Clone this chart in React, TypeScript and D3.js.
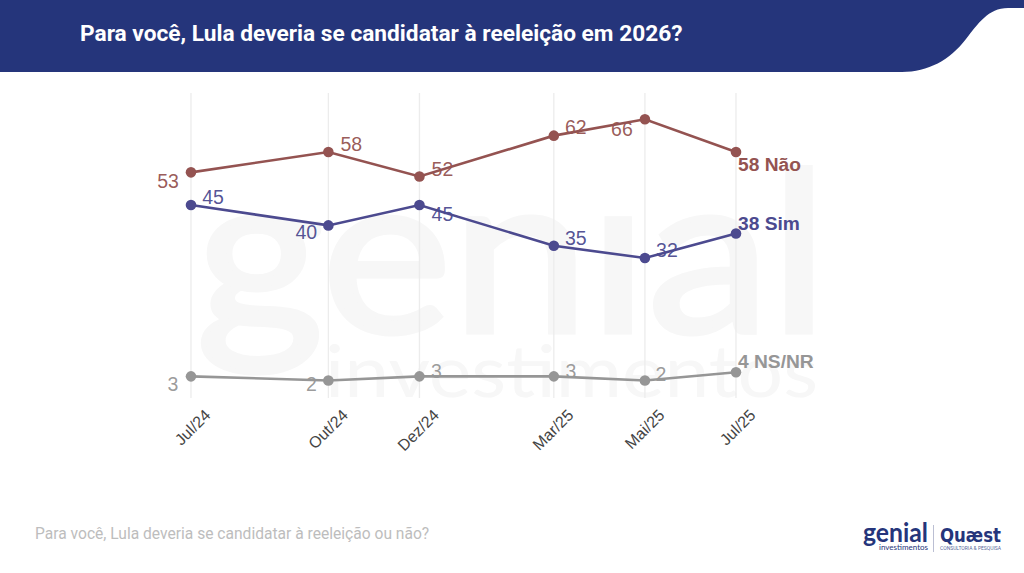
import * as d3 from "d3";
import { useEffect, useRef } from "react";

const months = ["2024-07-01", "2024-10-01", "2024-12-01", "2025-03-01", "2025-05-01", "2025-07-01"];
const tickLabels = ["Jul/24", "Out/24", "Dez/24", "Mar/25", "Mai/25", "Jul/25"];

const naoValues = [53, 58, 52, 62, 66, 58];
const simValues = [45, 40, 45, 35, 32, 38];
const nsValues = [3, 2, 3, 3, 2, 4];

const seriesNames = ["Não", "Sim", "NS/NR"];

// label nudges per point, last one is the bold end label
const naoOffsets = [[-23, 9], [23, -8], [23, -7], [22, -8], [-23, 10], [2, 12]];
const simOffsets = [[22, -8], [-22, 7], [23, 9], [22, -8], [22, -8], [2, -10]];
const nsOffsets = [[-18, 8], [-17, 4], [17, -5], [17, -5], [16, -6], [2, -11]];

const width = 1024;
const height = 573;
const labelFont = "'Liberation Sans', Arial, sans-serif";

const App = () => {
  const svgRef = useRef<SVGSVGElement | null>(null);

  useEffect(() => {
    if (!svgRef.current) return;
    const dates = months.map((m) => d3.utcParse("%Y-%m-%d")(m) as Date);

    const xScale = d3
      .scaleUtc()
      .domain([dates[0], dates[dates.length - 1]])
      .range([191, 736]);

    const yScale = d3.scaleLinear().domain([-2.3, 72.45]).range([398, 93]);

    const svg = d3.select(svgRef.current);
    svg.selectAll("*").remove();

    // Header band
    svg
      .append("path")
      .attr("d", "M0 0H1024V8H1008C988 8 978 24 966 39C950 60 928 72 902 72H0Z")
      .attr("fill", "#25357b");

    svg
      .append("text")
      .attr("x", 80)
      .attr("y", 41)
      .attr("fill", "#fff")
      .attr("font-family", "Roboto, sans-serif")
      .attr("font-weight", 700)
      .attr("font-size", 22.7)
      .text("Para você, Lula deveria se candidatar à reeleição em 2026?");

    // Watermark behind the plot
    svg
      .append("text")
      .attr("x", 196)
      .attr("y", 332)
      .attr("fill", "#f7f7f7")
      .attr("stroke", "#f7f7f7")
      .attr("stroke-width", 5)
      .attr("font-family", "Lato, sans-serif")
      .attr("font-size", 223)
      .attr("textLength", 632)
      .attr("lengthAdjust", "spacingAndGlyphs")
      .text("genial");

    // the logo's i has no dot
    svg.append("rect").attr("x", 510).attr("y", 150).attr("width", 140).attr("height", 62).attr("fill", "#fff");

    svg
      .append("text")
      .attr("x", 325)
      .attr("y", 397)
      .attr("fill", "#f7f7f7")
      .attr("font-family", "Lato, sans-serif")
      .attr("font-size", 72)
      .attr("textLength", 493)
      .attr("lengthAdjust", "spacingAndGlyphs")
      .text("investimentos");

    // Vertical grid lines
    svg
      .append("g")
      .selectAll("line")
      .data(dates)
      .join("line")
      .attr("x1", (d) => xScale(d))
      .attr("x2", (d) => xScale(d))
      .attr("y1", yScale.range()[1])
      .attr("y2", yScale.range()[0])
      .attr("stroke", "#ececec")
      .attr("stroke-width", 1.3);

    // X axis
    const xAxis = svg
      .append("g")
      .attr("transform", `translate(0,${yScale.range()[0]})`)
      .call(
        d3
          .axisBottom(xScale)
          .tickValues(dates)
          .tickSize(0)
          .tickFormat((_, i) => tickLabels[i])
      );
    xAxis.select(".domain").remove();
    xAxis
      .selectAll("text")
      .attr("fill", "#444")
      .attr("font-family", labelFont)
      .attr("font-size", 16)
      .attr("text-anchor", "end")
      .attr("dy", 0)
      .attr("transform", "translate(18,16) rotate(-45)");

    const lineGen = d3
      .line<number>()
      .x((_, i) => xScale(dates[i]))
      .y((d) => yScale(d));

    const series = [
      { name: seriesNames[0], values: naoValues, offsets: naoOffsets, color: "#945351" },
      { name: seriesNames[1], values: simValues, offsets: simOffsets, color: "#4c4a8f" },
      { name: seriesNames[2], values: nsValues, offsets: nsOffsets, color: "#969696" },
    ];

    series.forEach((s) => {
      const g = svg.append("g");
      g.append("path")
        .attr("d", lineGen(s.values))
        .attr("fill", "none")
        .attr("stroke", s.color)
        .attr("stroke-width", 2.6);

      g.selectAll("circle")
        .data(s.values)
        .join("circle")
        .attr("cx", (_, i) => xScale(dates[i]))
        .attr("cy", (d) => yScale(d))
        .attr("r", 5.3)
        .attr("fill", s.color);

      const last = s.values.length - 1;
      g.selectAll("text")
        .data(s.values)
        .join("text")
        .attr("x", (_, i) => xScale(dates[i]) + s.offsets[i][0])
        .attr("y", (d, i) => yScale(d) + s.offsets[i][1])
        .attr("dy", "0.35em")
        .attr("text-anchor", (_, i) => (i === last ? "start" : "middle"))
        .attr("font-family", labelFont)
        .attr("font-size", (_, i) => (i === last ? 19.2 : 19.5))
        .attr("font-weight", (_, i) => (i === last ? 700 : 400))
        .attr("fill", s.color)
        .attr("fill-opacity", (_, i) => (i === last ? 1 : 0.95))
        .text((d, i) => (i === last ? `${d} ${s.name}` : d));
    });

    // Question wording
    svg
      .append("text")
      .attr("x", 35)
      .attr("y", 539)
      .attr("fill", "#bdbdbd")
      .attr("font-family", "Roboto, sans-serif")
      .attr("font-size", 15.6)
      .text("Para você, Lula deveria se candidatar à reeleição ou não?");

    // Logos
    const logo = svg.append("g").attr("fill", "#25357b");
    logo
      .append("text")
      .attr("x", 863)
      .attr("y", 542)
      .attr("font-family", "Lato, sans-serif")
      .attr("font-weight", 700)
      .attr("font-size", 27)
      .attr("textLength", 65)
      .attr("lengthAdjust", "spacingAndGlyphs")
      .text("genial");
    logo
      .append("text")
      .attr("x", 879)
      .attr("y", 550)
      .attr("font-family", "Lato, sans-serif")
      .attr("font-size", 7.5)
      .attr("textLength", 49)
      .attr("lengthAdjust", "spacingAndGlyphs")
      .text("investimentos");
    logo
      .append("line")
      .attr("x1", 933.5)
      .attr("x2", 933.5)
      .attr("y1", 525)
      .attr("y2", 552)
      .attr("stroke", "#a9aec8")
      .attr("stroke-width", 0.8);
    logo
      .append("text")
      .attr("x", 940)
      .attr("y", 542)
      .attr("font-family", "'DejaVu Sans', sans-serif")
      .attr("font-weight", 700)
      .attr("font-size", 20)
      .attr("textLength", 61)
      .attr("lengthAdjust", "spacingAndGlyphs")
      .text("Quæst");
    logo
      .append("text")
      .attr("x", 940)
      .attr("y", 550)
      .attr("fill-opacity", 0.8)
      .attr("font-family", "Roboto, sans-serif")
      .attr("font-size", 5)
      .attr("textLength", 61)
      .attr("lengthAdjust", "spacing")
      .text("CONSULTORIA & PESQUISA");
  }, []);

  return <svg ref={svgRef} width={width} height={height} style={{ position: "absolute", left: 0, top: 0 }}></svg>;
};

export default App;
